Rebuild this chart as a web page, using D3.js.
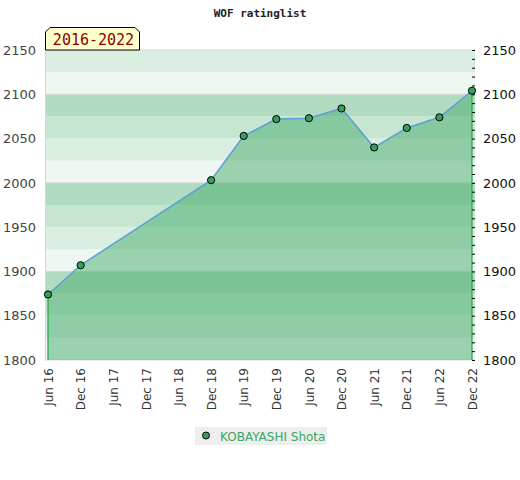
<!DOCTYPE html>
<html>
<head>
<meta charset="utf-8">
<script src="https://cdn.jsdelivr.net/npm/d3@7"></script>
<style>
  body { margin: 0; background: #fff; }
</style>
</head>
<body>
<div id="chart"></div>
<script>
const periods = ["Jun 16", "Dec 16", "Jun 17", "Dec 17", "Jun 18", "Dec 18", "Jun 19",
  "Dec 19", "Jun 20", "Dec 20", "Jun 21", "Dec 21", "Jun 22", "Dec 22"];
const ratedPeriods = ["Jun 16", "Dec 16", "Dec 18", "Jun 19", "Dec 19", "Jun 20",
  "Dec 20", "Jun 21", "Dec 21", "Jun 22", "Dec 22"];
const ratings = [1874, 1907, 2003, 2053, 2072, 2073, 2084, 2040, 2062, 2074, 2104];
const yTicks = [1800, 1850, 1900, 1950, 2000, 2050, 2100, 2150];
const playerName = "KOBAYASHI Shota";
const rangeLabel = "2016-2022";
const chartTitle = "WOF ratinglist";

const width = 520, height = 480;
const plot = { left: 45, right: 475, top: 50, bottom: 360 };
const sans = "DejaVu Sans", mono = "DejaVu Sans Mono";

const svg = d3.select("#chart").append("svg").attr("width", width).attr("height", height);

const x = d3.scalePoint().domain(periods).range([48, 472]);
const y = d3.scaleLinear().domain([1800, 2150]).range([plot.bottom, plot.top]);

// bandas de fondo cada 25 puntos
const bandColors = ["#b2dcc1", "#c7e6d2", "#dbeee2", "#eef7f1"];
const bands = d3.range(1800, 2150, 25);
svg.append("g").selectAll("rect").data(bands).enter().append("rect")
  .attr("x", plot.left)
  .attr("width", plot.right - plot.left)
  .attr("y", (d) => y(d + 25))
  .attr("height", (d) => y(d) - y(d + 25))
  .attr("fill", (d) => bandColors[((2100 - (d + 25)) / 25 % 4 + 4) % 4]);

// lineas de cuadricula
svg.append("g").selectAll("line").data([1800, 1900, 2000, 2100, 2150]).enter().append("line")
  .attr("x1", plot.left).attr("x2", plot.right)
  .attr("y1", (d) => y(d)).attr("y2", (d) => y(d))
  .attr("stroke", "#d6d6d6");
svg.append("line")
  .attr("x1", plot.left + 0.5).attr("x2", plot.left + 0.5)
  .attr("y1", plot.top).attr("y2", plot.bottom)
  .attr("stroke", "#d6d6d6");

const data = ratedPeriods.map((p, i) => ({ p, v: ratings[i] }));

// area bajo la curva
const area = d3.area().x((d) => x(d.p)).y0(y(1800)).y1((d) => y(d.v));
svg.append("path").datum(data).attr("d", area)
  .attr("fill", "rgb(70,171,107)").attr("fill-opacity", 0.5);

// bordes verticales del area
const first = data[0], last = data[data.length - 1];
[first, last].forEach((d) => {
  svg.append("line")
    .attr("x1", x(d.p)).attr("x2", x(d.p))
    .attr("y1", y(d.v)).attr("y2", y(1800))
    .attr("stroke", "#2fa84f").attr("stroke-width", 1.3);
});

// eje derecho con marcas menores
const yRight = d3.axisRight(y).tickValues(d3.range(1800, 2151, 10)).tickSize(3)
  .tickFormat((d) => (d % 50 === 0 ? d3.format("d")(d) : ""));
const gR = svg.append("g").attr("transform", `translate(${472},0)`).call(yRight);
gR.select(".domain").remove();
gR.selectAll("line").attr("stroke", "#000");
gR.selectAll("text").attr("x", 11).attr("font-size", 13).attr("fill", "#111")
  .attr("font-family", sans);

// eje izquierdo
const yLeft = d3.axisLeft(y).tickValues(yTicks).tickSize(0).tickFormat(d3.format("d"));
const gL = svg.append("g").attr("transform", `translate(${plot.left},0)`).call(yLeft);
gL.select(".domain").remove();
gL.selectAll("text").attr("x", -9).attr("font-size", 13).attr("fill", "#444")
  .attr("font-family", sans);

// linea
const line = d3.line().x((d) => x(d.p)).y((d) => y(d.v));
svg.append("path").datum(data).attr("d", line)
  .attr("fill", "none").attr("stroke", "#5b9fd6").attr("stroke-width", 1.5);

// puntos
svg.append("g").selectAll("circle").data(data).enter().append("circle")
  .attr("cx", (d) => x(d.p)).attr("cy", (d) => y(d.v)).attr("r", 3.6)
  .attr("fill", "#34a05a").attr("stroke", "#000").attr("stroke-width", 1);

// etiquetas del eje x
const xAxis = d3.axisBottom(x).tickSize(0);
const gX = svg.append("g").attr("transform", `translate(0,${plot.bottom})`).call(xAxis);
gX.select(".domain").remove();
gX.selectAll("text")
  .attr("transform", "rotate(-90)")
  .attr("x", -8).attr("y", 0).attr("dy", "0.35em")
  .style("text-anchor", "end")
  .attr("font-size", 12).attr("fill", "#333").attr("font-family", sans);

// titulo
svg.append("text").attr("x", 260).attr("y", 17).attr("text-anchor", "middle")
  .attr("font-family", mono).attr("font-weight", "bold").attr("font-size", 11)
  .attr("fill", "#222").text(chartTitle);

// etiqueta del rango
const bx0 = 45, bx1 = 140, by0 = 27, by1 = 50, c = 5;
svg.append("path")
  .attr("d", `M${bx0 + 0.5},${by1}L${bx0 + 0.5},${by0 + c}L${bx0 + c},${by0 + 0.5}L${bx1 - c},${by0 + 0.5}L${bx1 - 0.5},${by0 + c}L${bx1 - 0.5},${by1}Z`)
  .attr("fill", "#ffffcc").attr("stroke", "#000");
svg.append("text").attr("x", (bx0 + bx1) / 2 + 1).attr("y", 45).attr("text-anchor", "middle")
  .attr("font-family", mono).attr("font-size", 15).attr("fill", "#8b0000")
  .text(rangeLabel);

// leyenda
const lg = svg.append("g").attr("transform", "translate(195,427)");
lg.append("rect").attr("width", 132).attr("height", 18).attr("fill", "#eeeeee");
lg.append("circle").attr("cx", 11).attr("cy", 8.5).attr("r", 3.5)
  .attr("fill", "#34a05a").attr("stroke", "#000");
lg.append("text").attr("x", 25).attr("y", 13.5).attr("font-size", 12)
  .attr("font-family", sans).attr("fill", "#3aa661").text(playerName);
</script>
</body>
</html>
